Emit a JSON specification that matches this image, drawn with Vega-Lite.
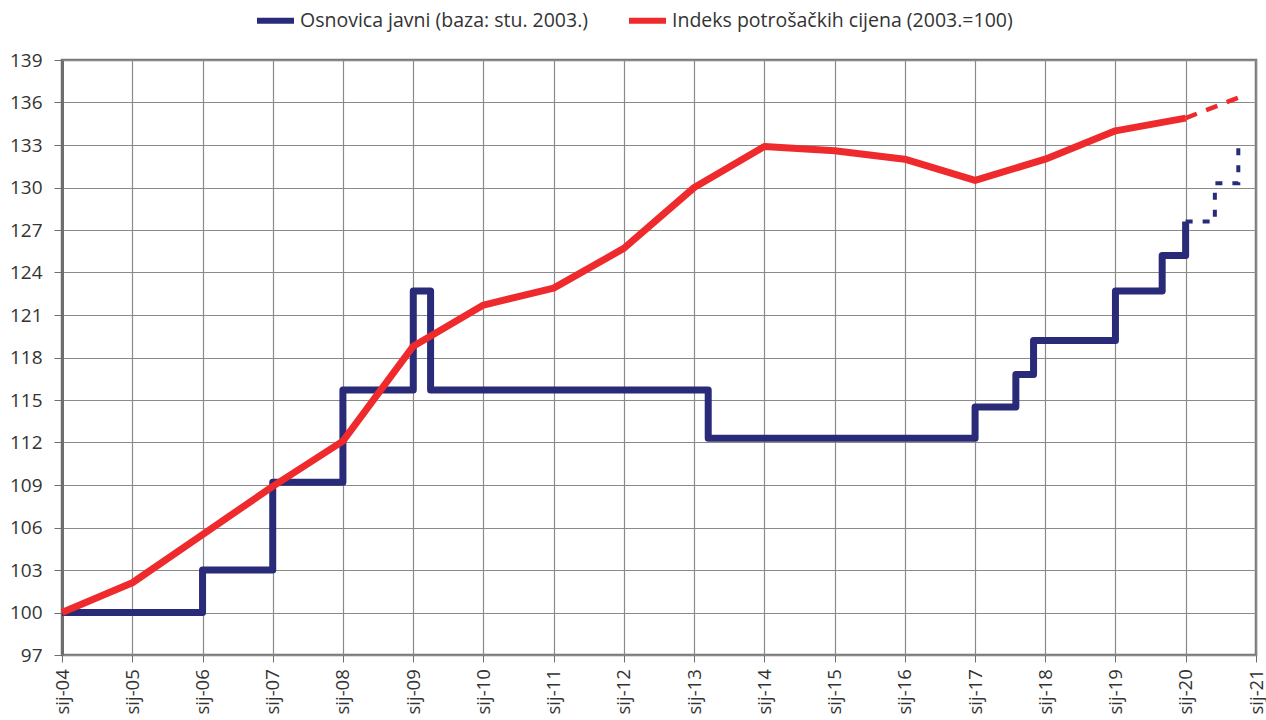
{
  "$schema": "https://vega.github.io/schema/vega-lite/v6.json",
  "width": 1194,
  "height": 595,
  "autosize": {"type": "none"},
  "padding": {"left": 62, "top": 60, "right": 10, "bottom": 65},
  "background": "white",
  "config": {
    "font": "Open Sans",
    "view": {"stroke": "#7a7a7a", "strokeWidth": 2.5},
    "axis": {"labelColor": "#333333", "labelFontSize": 18.5, "gridColor": "#8a8a8a", "gridWidth": 1.2, "tickColor": "#6e6e6e", "title": null}
  },
  "datasets": {
    "blue": [
      {"series": "Osnovica javni (baza: stu. 2003.)", "date": "2004-01-01", "value": 100},
      {"series": "Osnovica javni (baza: stu. 2003.)", "date": "2006-01-01", "value": 103},
      {"series": "Osnovica javni (baza: stu. 2003.)", "date": "2007-01-01", "value": 109.2},
      {"series": "Osnovica javni (baza: stu. 2003.)", "date": "2008-01-01", "value": 115.7},
      {"series": "Osnovica javni (baza: stu. 2003.)", "date": "2009-01-01", "value": 122.7},
      {"series": "Osnovica javni (baza: stu. 2003.)", "date": "2009-04-01", "value": 115.7},
      {"series": "Osnovica javni (baza: stu. 2003.)", "date": "2013-03-15", "value": 112.3},
      {"series": "Osnovica javni (baza: stu. 2003.)", "date": "2017-01-01", "value": 114.5},
      {"series": "Osnovica javni (baza: stu. 2003.)", "date": "2017-08-01", "value": 116.8},
      {"series": "Osnovica javni (baza: stu. 2003.)", "date": "2017-11-01", "value": 119.2},
      {"series": "Osnovica javni (baza: stu. 2003.)", "date": "2019-01-01", "value": 122.7},
      {"series": "Osnovica javni (baza: stu. 2003.)", "date": "2019-09-01", "value": 125.2},
      {"series": "Osnovica javni (baza: stu. 2003.)", "date": "2020-01-01", "value": 127.6}
    ],
    "blueProj": [
      {"date": "2020-01-01", "value": 127.6},
      {"date": "2020-06-01", "value": 130.3},
      {"date": "2020-10-01", "value": 132.9},
      {"date": "2020-11-01", "value": 132.9}
    ],
    "red": [
      {"series": "Indeks potrošačkih cijena (2003.=100)", "date": "2004-01-01", "value": 100},
      {"series": "Indeks potrošačkih cijena (2003.=100)", "date": "2005-01-01", "value": 102.1},
      {"series": "Indeks potrošačkih cijena (2003.=100)", "date": "2006-01-01", "value": 105.5},
      {"series": "Indeks potrošačkih cijena (2003.=100)", "date": "2007-01-01", "value": 108.9},
      {"series": "Indeks potrošačkih cijena (2003.=100)", "date": "2008-01-01", "value": 112.1},
      {"series": "Indeks potrošačkih cijena (2003.=100)", "date": "2009-01-01", "value": 118.8},
      {"series": "Indeks potrošačkih cijena (2003.=100)", "date": "2010-01-01", "value": 121.7},
      {"series": "Indeks potrošačkih cijena (2003.=100)", "date": "2011-01-01", "value": 122.9},
      {"series": "Indeks potrošačkih cijena (2003.=100)", "date": "2012-01-01", "value": 125.7},
      {"series": "Indeks potrošačkih cijena (2003.=100)", "date": "2013-01-01", "value": 130.0},
      {"series": "Indeks potrošačkih cijena (2003.=100)", "date": "2014-01-01", "value": 132.9},
      {"series": "Indeks potrošačkih cijena (2003.=100)", "date": "2015-01-01", "value": 132.6},
      {"series": "Indeks potrošačkih cijena (2003.=100)", "date": "2016-01-01", "value": 132.0},
      {"series": "Indeks potrošačkih cijena (2003.=100)", "date": "2017-01-01", "value": 130.5},
      {"series": "Indeks potrošačkih cijena (2003.=100)", "date": "2018-01-01", "value": 132.0},
      {"series": "Indeks potrošačkih cijena (2003.=100)", "date": "2019-01-01", "value": 134.0},
      {"series": "Indeks potrošačkih cijena (2003.=100)", "date": "2020-01-01", "value": 134.9}
    ],
    "redProj": [
      {"date": "2020-01-01", "value": 134.9},
      {"date": "2020-11-01", "value": 136.5}
    ]
  },
  "encoding": {
    "x": {
      "field": "date",
      "type": "temporal",
      "scale": {"type": "utc", "domain": [{"year": 2004, "month": 1, "date": 1, "utc": true}, {"year": 2021, "month": 1, "date": 1, "utc": true}]},
      "axis": {
        "tickCount": {"interval": "year", "step": 1},
        "labelExpr": "'sij-' + utcFormat(datum.value, '%y')",
        "labelAngle": 270,
        "labelAlign": "left",
        "labelBaseline": "middle",
        "labelPadding": 52,
        "tickSize": 7,
        "domain": false,
        "grid": true,
        "labelOverlap": false,
        "labelFlush": false
      }
    },
    "y": {
      "field": "value",
      "type": "quantitative",
      "scale": {"domain": [97, 139], "nice": false, "zero": false},
      "axis": {
        "values": [97, 100, 103, 106, 109, 112, 115, 118, 121, 124, 127, 130, 133, 136, 139],
        "tickSize": 8,
        "labelPadding": 12,
        "labelFontSize": 19,
        "domainColor": "#6e6e6e",
        "domainWidth": 3,
        "grid": true
      }
    }
  },
  "layer": [
    {
      "data": {"name": "blue"},
      "mark": {"type": "line", "interpolate": "step-after", "strokeWidth": 7, "strokeJoin": "round"},
      "encoding": {
        "color": {
          "field": "series",
          "type": "nominal",
          "scale": {"domain": ["Osnovica javni (baza: stu. 2003.)", "Indeks potrošačkih cijena (2003.=100)"], "range": ["#2a2b78", "#ee2a2d"]},
          "legend": {
            "orient": "none",
            "legendX": 192,
            "legendY": -61,
            "direction": "horizontal",
            "title": null,
            "symbolType": "stroke",
            "symbolStrokeWidth": 6,
            "symbolSize": 1369,
            "labelFontSize": 19.5,
            "labelColor": "#333333",
            "labelOffset": 3,
            "columnPadding": 28,
            "padding": 0,
            "labelLimit": 500
          }
        }
      }
    },
    {
      "data": {"name": "blueProj"},
      "mark": {"type": "line", "interpolate": "step-after", "strokeWidth": 4, "strokeDash": [7, 10], "color": "#2a2b78"},
      "encoding": {}
    },
    {
      "data": {"name": "red"},
      "mark": {"type": "line", "strokeWidth": 7, "strokeJoin": "round"},
      "encoding": {
        "color": {"field": "series", "type": "nominal"}
      }
    },
    {
      "data": {"name": "redProj"},
      "mark": {"type": "line", "strokeWidth": 4.5, "strokeDash": [12, 10], "color": "#ee2a2d"},
      "encoding": {}
    }
  ]
}
